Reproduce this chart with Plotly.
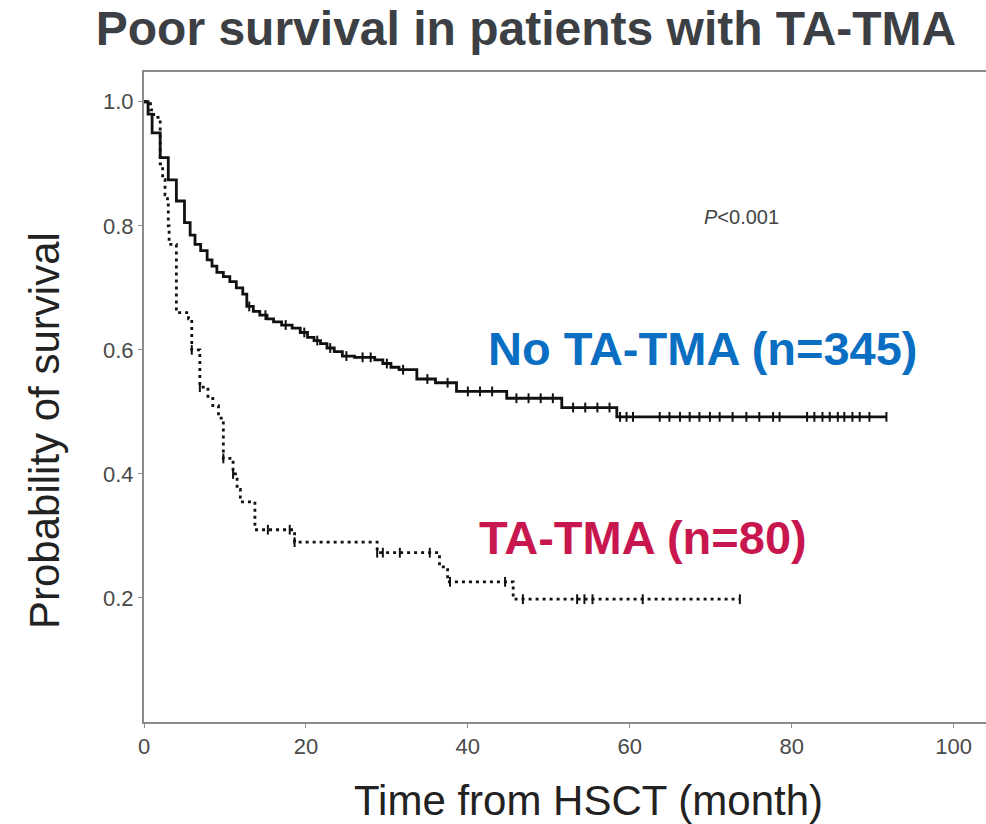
import plotly.graph_objects as go
import numpy as np

# No TA-TMA (n=345): step times (month) and survival after each step
no_tma_t = [0, 0.5, 1.0, 2.0, 3.0, 4.0, 5.0, 5.7, 6.3, 7.0, 7.8, 8.4, 9.0, 9.8, 10.6, 11.4,
            12.2, 12.7, 13.5, 14.3, 15.2, 16.0, 17.0, 18.3, 19.3, 20.2, 21.0, 21.8, 22.6,
            23.5, 24.5, 26.0, 28.5, 29.5, 30.5, 31.5, 33.7, 36.0, 38.6, 44.8, 51.6, 58.4, 91.7]
no_tma_s = [1.0, 0.98, 0.95, 0.91, 0.874, 0.84, 0.805, 0.785, 0.77, 0.76, 0.745, 0.735, 0.725,
            0.718, 0.71, 0.70, 0.69, 0.67, 0.662, 0.656, 0.65, 0.645, 0.64, 0.635, 0.628, 0.62,
            0.615, 0.61, 0.603, 0.597, 0.59, 0.588, 0.584, 0.578, 0.572, 0.568, 0.553, 0.547,
            0.533, 0.522, 0.507, 0.492, 0.492]
no_tma_censor = [13.0, 15.0, 17.5, 19.8, 21.4, 23.0, 25.0, 27.0, 28.0, 30.0, 32.0, 35.0, 37.5,
                 40.0, 41.5, 43.0, 46.0, 47.5, 49.0, 50.5, 53.0, 54.5, 56.0, 57.5,
                 58.8, 59.6, 60.4, 63.7, 64.9, 66.2, 67.4, 68.6, 69.9, 71.1, 72.7, 74.4, 76.0,
                 77.7, 78.5, 81.9, 82.8, 83.8, 84.7, 85.7, 86.5, 87.5, 88.4, 89.6, 91.7]

# TA-TMA (n=80)
tma_t = [0, 0.8, 1.2, 2.0, 2.3, 2.6, 2.9, 3.0, 3.1, 4.0, 5.5, 5.9, 6.9, 7.9, 8.5, 9.2, 9.8,
         11.0, 11.5, 11.9, 13.7, 18.6, 28.8, 36.5, 37.5, 45.6, 73.6]
tma_s = [1.0, 0.987, 0.975, 0.90, 0.875, 0.85, 0.84, 0.80, 0.77, 0.66, 0.65, 0.60, 0.54, 0.525,
         0.51, 0.49, 0.425, 0.40, 0.375, 0.355, 0.31, 0.29, 0.273, 0.25, 0.226, 0.198, 0.198]
tma_censor = [5.9, 6.9, 9.8, 11.0, 15.3, 18.0, 18.6, 28.8, 29.5, 31.6, 35.3, 37.8, 44.6, 46.8,
              53.5, 54.4, 55.4, 61.6, 73.6]

x_ticks = [0, 20, 40, 60, 80, 100]
y_ticks = [0.2, 0.4, 0.6, 0.8, 1.0]
y_tick_text = ["0.2", "0.4", "0.6", "0.8", "1.0"]


def surv_at(times, surv, t):
    idx = np.searchsorted(np.array(times), t, side="right") - 1
    return surv[max(idx, 0)]


fig = go.Figure()
fig.add_trace(go.Scatter(x=no_tma_t, y=no_tma_s, mode="lines", line_shape="hv",
                         line=dict(color="#111111", width=2.8), showlegend=False, hoverinfo="skip"))
fig.add_trace(go.Scatter(x=no_tma_censor, y=[surv_at(no_tma_t, no_tma_s, t) for t in no_tma_censor],
                         mode="markers", marker=dict(symbol="line-ns", size=7,
                                                     line=dict(color="#111111", width=2)),
                         showlegend=False, hoverinfo="skip"))
fig.add_trace(go.Scatter(x=tma_t, y=tma_s, mode="lines", line_shape="hv",
                         line=dict(color="#111111", width=2.8, dash="3px,4px"), showlegend=False,
                         hoverinfo="skip"))
fig.add_trace(go.Scatter(x=tma_censor, y=[surv_at(tma_t, tma_s, t) for t in tma_censor],
                         mode="markers", marker=dict(symbol="line-ns", size=7,
                                                     line=dict(color="#111111", width=2)),
                         showlegend=False, hoverinfo="skip"))

L, R, T, B = 144, 0, 72, 102
W, H = 986, 824
pw, ph = W - L - R, H - T - B


def px(xp):
    return (xp - L) / pw


def py(yp):
    return (H - B - yp) / ph


tick_font = dict(family="Liberation Sans, Arial", size=22, color="#4a4a4a")

fig.update_layout(
    width=W, height=H,
    margin=dict(l=L, r=R, t=T, b=B),
    plot_bgcolor="white", paper_bgcolor="white",
    title=dict(text="<b>Poor survival in patients with TA-TMA</b>",
               font=dict(family="Liberation Sans, Arial", size=48, color="#3c3f44"),
               x=526 / W, xanchor="center", y=1 - 28 / H, yanchor="middle"),
    xaxis=dict(range=[0, 104], tickvals=x_ticks, showgrid=False, zeroline=False,
               showline=True, linecolor="#8a8a8a", linewidth=2, mirror=True,
               ticks="outside", ticklen=4, tickcolor="#8a8a8a", tickfont=tick_font),
    yaxis=dict(range=[0, 1.048], tickvals=y_ticks, ticktext=y_tick_text, showgrid=False,
               zeroline=False, showline=True, linecolor="#8a8a8a", linewidth=2,
               ticks="outside", ticklen=4, tickcolor="#8a8a8a", tickfont=tick_font),
)

ann_font = "Liberation Sans, Arial"
common = dict(xref="paper", yref="paper", showarrow=False, xanchor="center", yanchor="middle")
fig.add_annotation(text="Time from HSCT (month)", x=px(588), y=py(800),
                   font=dict(family=ann_font, size=42, color="#222222"), **common)
fig.add_annotation(text="Probability of survival", x=px(44), y=py(431), textangle=-90,
                   font=dict(family=ann_font, size=42, color="#222222"), **common)
fig.add_annotation(text="<i>P</i><0.001", x=px(741), y=py(217),
                   font=dict(family=ann_font, size=20, color="#444444"), **common)
fig.add_annotation(text="<b>No TA-TMA (n=345)</b>", x=px(703), y=py(349),
                   font=dict(family=ann_font, size=47, color="#0a6fc2"), **common)
fig.add_annotation(text="<b>TA-TMA (n=80)</b>", x=px(643), y=py(537),
                   font=dict(family=ann_font, size=47, color="#c8174f"), **common)

fig.write_html("out.html")
